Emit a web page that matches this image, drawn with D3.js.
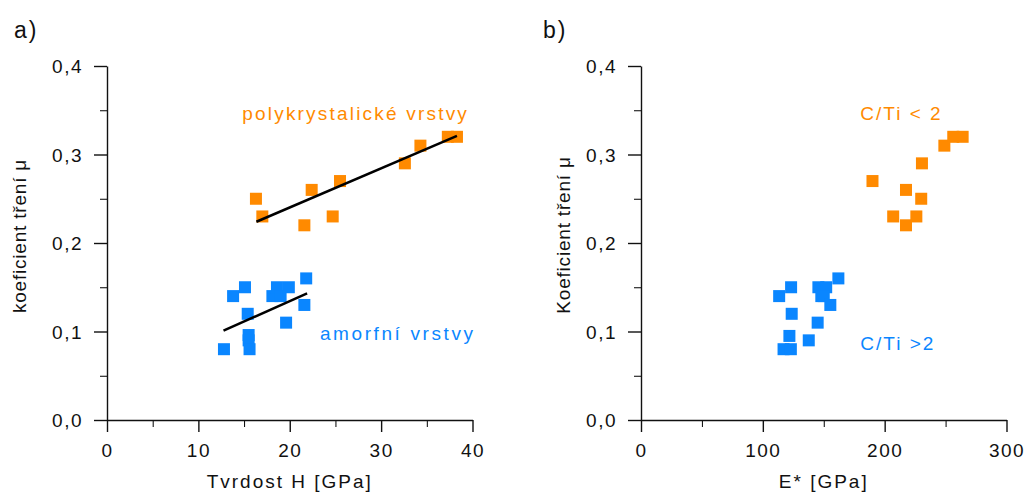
<!DOCTYPE html>
<html>
<head>
<meta charset="utf-8">
<script src="https://cdn.jsdelivr.net/npm/d3@7"></script>
<style>
  body { margin: 0; background: #fff; }
  svg { display: block; font-family: "Liberation Sans", Arial, sans-serif; }
</style>
</head>
<body>
<div id="chart"></div>
<script>
const width = 1031;
const height = 497;

// panel a: hardness H [GPa] vs friction coefficient
const polyH  = [16.3, 17.0, 21.6, 22.4, 24.7, 25.5, 32.6, 34.3, 37.3, 38.3];
const polyMu = [0.25, 0.23, 0.22, 0.26, 0.23, 0.27, 0.29, 0.31, 0.32, 0.32];
const amorH  = [12.8, 13.8, 15.1, 15.4, 15.5, 15.5, 15.6, 18.1, 18.6, 19.0, 19.9, 19.6, 21.8, 21.6];
const amorMu = [0.08, 0.14, 0.15, 0.12, 0.096, 0.09, 0.08, 0.14, 0.15, 0.14, 0.15, 0.11, 0.16, 0.13];
// linear fits (end points)
const polyFitH  = [16.35, 38.3];
const polyFitMu = [0.224, 0.321];
const amorFitH  = [12.75, 21.9];
const amorFitMu = [0.101, 0.143];

// panel b: E* [GPa] vs friction coefficient
const lowE   = [190, 207, 217.5, 217.5, 226, 230, 230.6, 249, 256.3, 264];
const lowMu  = [0.27, 0.23, 0.26, 0.22, 0.23, 0.25, 0.29, 0.31, 0.32, 0.32];
const highE  = [113.4, 123.2, 123.7, 121.8, 117, 123, 137.7, 145, 145.6, 152, 148, 150, 155.4, 162];
const highMu = [0.14, 0.15, 0.12, 0.095, 0.08, 0.08, 0.09, 0.11, 0.15, 0.15, 0.14, 0.14, 0.13, 0.16];

const muTicks = [0, 0.1, 0.2, 0.3, 0.4];
const hTicks = [0, 10, 20, 30, 40];
const eTicks = [0, 100, 200, 300];

const orange = '#ff8a00';
const blue = '#0a86ff';
const ink = '#111';

const svg = d3.select('#chart').append('svg')
  .attr('width', width)
  .attr('height', height);

const fmt = d => d3.format('.1f')(d).replace('.', ',');

const drawPanel = (p) => {
  const x = d3.scaleLinear().domain(p.xDomain).range([p.left, p.right]);
  const y = d3.scaleLinear().domain([0, 0.4]).range([420, 66]);
  const g = svg.append('g');

  // minor ticks
  const xStep = p.xTicks[1] - p.xTicks[0];
  const xMinor = d3.range(p.xTicks.length - 1).map(i => p.xTicks[i] + xStep / 2);
  const yMinor = [0.05, 0.15, 0.25, 0.35];
  g.append('g').attr('transform', `translate(0,${y(0)})`)
    .call(d3.axisBottom(x).tickValues(xMinor).tickSize(7).tickSizeOuter(0).tickFormat(''))
    .call(a => a.select('.domain').remove());
  g.append('g').attr('transform', `translate(${x(p.xDomain[0])},0)`)
    .call(d3.axisLeft(y).tickValues(yMinor).tickSize(7).tickSizeOuter(0).tickFormat(''))
    .call(a => a.select('.domain').remove());

  // major axes
  const xa = g.append('g').attr('transform', `translate(0,${y(0)})`)
    .call(d3.axisBottom(x).tickValues(p.xTicks).tickSize(12).tickSizeOuter(0).tickPadding(12));
  const ya = g.append('g').attr('transform', `translate(${x(p.xDomain[0])},0)`)
    .call(d3.axisLeft(y).tickValues(muTicks).tickSize(13).tickSizeOuter(0).tickPadding(11).tickFormat(fmt));

  [xa, ya].forEach(a => {
    a.selectAll('path, line').attr('stroke', ink).attr('stroke-width', 1.4);
    a.selectAll('text').attr('fill', ink).style('font-size', '19px')
      .style('letter-spacing', '1.5px').attr('font-family', null);
  });
  ya.selectAll('text').attr('dy', '0.36em');

  // squares
  const sz = 12;
  p.series.forEach(s => {
    g.selectAll(null).data(s.xs).enter().append('rect')
      .attr('x', (d) => x(d) - sz / 2)
      .attr('y', (d, i) => y(s.ys[i]) - sz / 2)
      .attr('width', sz).attr('height', sz)
      .attr('fill', s.color);
  });
  // fit lines over the squares
  p.fits.forEach(f => {
    g.append('line')
      .attr('x1', x(f.xs[0])).attr('y1', y(f.ys[0]))
      .attr('x2', x(f.xs[1])).attr('y2', y(f.ys[1]))
      .attr('stroke', '#000').attr('stroke-width', 2.5);
  });

  // annotations
  p.notes.forEach(n => {
    g.append('text')
      .attr('x', x(n.x)).attr('y', y(n.y))
      .attr('fill', n.color)
      .style('font-size', '19px').style('letter-spacing', n.ls)
      .text(n.text);
  });

  // axis titles
  g.append('text')
    .attr('x', (p.left + p.right) / 2 + p.xTitleShift).attr('y', 488)
    .attr('text-anchor', 'middle')
    .attr('fill', ink).style('font-size', '19px').style('letter-spacing', '2px')
    .text(p.xTitle);
  g.append('text')
    .attr('transform', `translate(${p.yTitleX},${p.yTitleY}) rotate(-90)`)
    .attr('text-anchor', 'middle')
    .attr('fill', ink).style('font-size', '19px').style('letter-spacing', '0.8px')
    .text(p.yTitle);

  g.append('text')
    .attr('x', p.tagX).attr('y', 38)
    .attr('fill', ink).style('font-size', '23px').style('letter-spacing', '2px')
    .text(p.tag);
};

drawPanel({
  xDomain: [0, 40], left: 107, right: 472.5, xTicks: hTicks,
  xTitle: 'Tvrdost H [GPa]', xTitleShift: 0,
  yTitle: 'koeficient tření μ', yTitleX: 26, yTitleY: 236,
  tag: 'a)', tagX: 14,
  series: [
    { xs: polyH, ys: polyMu, color: orange },
    { xs: amorH, ys: amorMu, color: blue }
  ],
  fits: [
    { xs: polyFitH, ys: polyFitMu },
    { xs: amorFitH, ys: amorFitMu }
  ],
  notes: [
    { text: 'polykrystalické vrstvy', x: 14.8, y: 0.339, color: orange, ls: '2.2px' },
    { text: 'amorfní vrstvy', x: 23.3, y: 0.0905, color: blue, ls: '2.6px' }
  ]
});

drawPanel({
  xDomain: [0, 300], left: 641, right: 1006.5, xTicks: eTicks,
  xTitle: 'E* [GPa]', xTitleShift: 0,
  yTitle: 'Koeficient tření μ', yTitleX: 570, yTitleY: 235,
  tag: 'b)', tagX: 543,
  series: [
    { xs: lowE, ys: lowMu, color: orange },
    { xs: highE, ys: highMu, color: blue }
  ],
  fits: [],
  notes: [
    { text: 'C/Ti < 2', x: 180, y: 0.339, color: orange, ls: '2px' },
    { text: 'C/Ti >2', x: 180, y: 0.079, color: blue, ls: '2px' }
  ]
});
</script>
</body>
</html>
